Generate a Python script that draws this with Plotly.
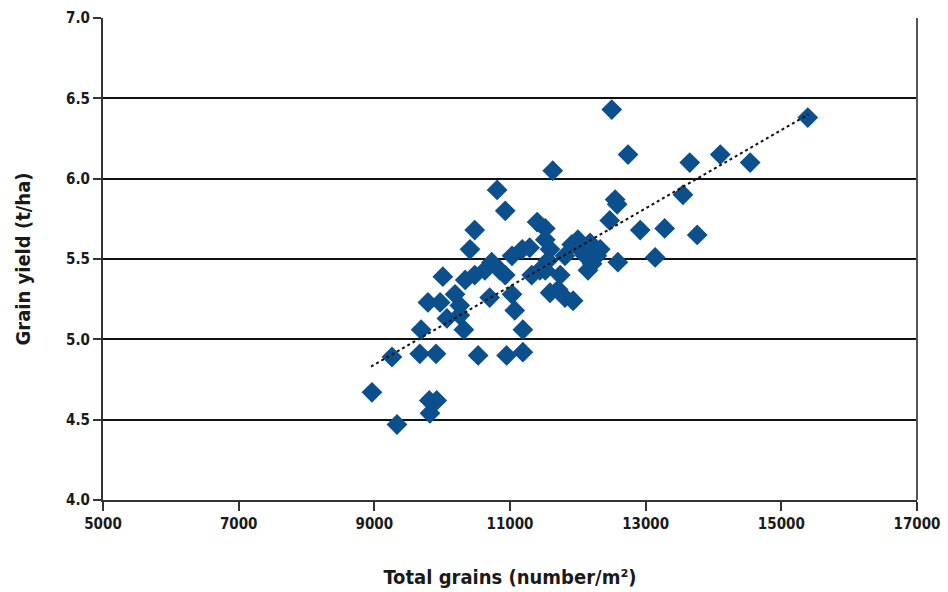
import plotly.graph_objects as go

grains = [8965, 9334, 9260, 9690, 9790, 9670, 9910, 9810, 9920, 9820,
          10010, 9970, 10070, 10190, 10260, 10320, 10260, 10410, 10480, 10530,
          10340, 10480, 10630, 10730, 10850, 10700, 10930, 10810, 10930, 10950,
          11030, 11070, 11190, 11190, 11030, 11180, 11290, 11320, 11440, 11400,
          11520, 11520, 11590, 11560, 11630, 11590, 11740, 11710, 11810, 11930,
          11810, 11910, 12000, 12030, 12110, 12150, 12210, 12280, 12180, 12500,
          12470, 12550, 12580, 12590, 12740, 12920, 13140, 13280, 13550, 13650,
          13760, 14100, 14540, 15390, 11520, 12330]
yield_t = [4.67, 4.47, 4.89, 5.06, 5.23, 4.91, 4.91, 4.62, 4.62, 4.54,
           5.39, 5.23, 5.13, 5.28, 5.21, 5.06, 5.15, 5.56, 5.68, 4.90,
           5.37, 5.40, 5.43, 5.48, 5.43, 5.26, 5.40, 5.93, 5.80, 4.90,
           5.28, 5.18, 5.06, 4.92, 5.52, 5.56, 5.57, 5.40, 5.43, 5.73,
           5.69, 5.62, 5.56, 5.49, 6.05, 5.29, 5.40, 5.31, 5.26, 5.24,
           5.52, 5.59, 5.62, 5.56, 5.52, 5.43, 5.47, 5.52, 5.60, 6.43,
           5.74, 5.87, 5.84, 5.48, 6.15, 5.68, 5.51, 5.69, 5.90, 6.10,
           5.65, 6.15, 6.10, 6.38, 5.43, 5.56]

trend_x = [8950, 15400]
trend_y = [4.83, 6.40]

x_ticks = [5000, 7000, 9000, 11000, 13000, 15000, 17000]
y_ticks = [4.0, 4.5, 5.0, 5.5, 6.0, 6.5, 7.0]

FONT = "DejaVu Sans Condensed, Liberation Sans, sans-serif"

fig = go.Figure()
fig.add_trace(go.Scatter(
    x=grains, y=yield_t, mode="markers",
    marker=dict(symbol="diamond", size=16, color="#0b4f8c", line=dict(width=0)),
    showlegend=False,
))
fig.add_trace(go.Scatter(
    x=trend_x, y=trend_y, mode="lines",
    line=dict(color="#111111", width=2, dash="dot"),
    showlegend=False,
))

fig.update_layout(
    width=948, height=592,
    margin=dict(l=103, r=31, t=18, b=92),
    paper_bgcolor="white", plot_bgcolor="white",
    font=dict(family=FONT, size=15, color="#1a1a1a", weight=700),
)
fig.update_xaxes(
    range=[5000, 17000], tickvals=x_ticks, ticktext=[str(v) for v in x_ticks],
    showgrid=False, zeroline=False, automargin=False,
    showline=True, linecolor="#333333", linewidth=2, mirror=False,
    ticks="outside", ticklen=9, tickwidth=1.5, tickcolor="#333333",
    tickfont=dict(family=FONT, size=15, weight=700),
    title=dict(text="Total grains (number/m²)", font=dict(family=FONT, size=20, weight=700), standoff=38),
)
fig.update_yaxes(
    range=[4.0, 7.0], tickvals=y_ticks, ticktext=[f"{v:.1f}" for v in y_ticks],
    showgrid=True, gridcolor="#111111", gridwidth=2, zeroline=False, automargin=False,
    showline=True, linecolor="#333333", linewidth=2,
    ticks="outside", ticklen=8, tickwidth=1.5, tickcolor="#333333",
    tickfont=dict(family=FONT, size=15, weight=700),
    title=dict(text="Grain yield (t/ha)", font=dict(family=FONT, size=20, weight=700), standoff=30),
)
# right frame line
fig.add_shape(type="line", xref="paper", yref="paper", x0=1, x1=1, y0=0, y1=1,
              line=dict(color="#555555", width=2))

fig.write_html("out.html")
